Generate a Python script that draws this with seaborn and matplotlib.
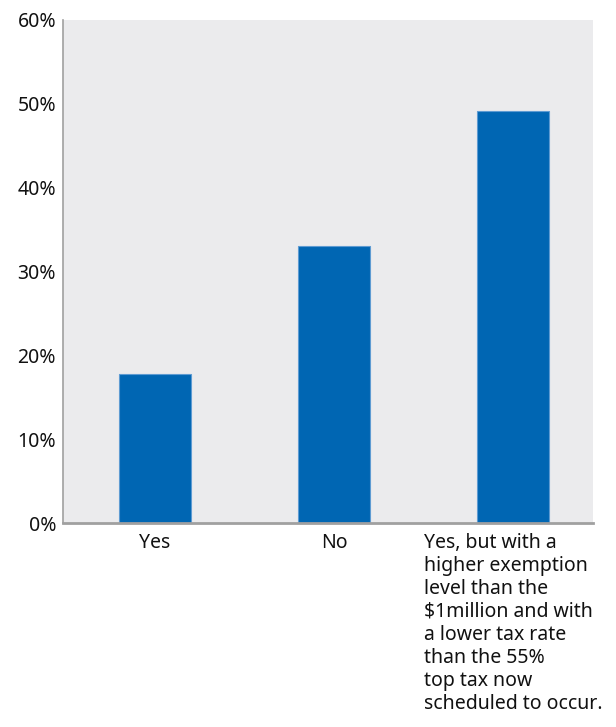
import matplotlib
matplotlib.use("Agg")
import matplotlib.pyplot as plt
import seaborn as sns
from matplotlib.ticker import FuncFormatter, FixedLocator, NullFormatter

categories = [
    "Yes",
    "No",
    "Yes, but with a\nhigher exemption\nlevel than the\n$1million and with\na lower tax rate\nthan the 55%\ntop tax now\nscheduled to occur.",
]
shares = [17.8, 33.0, 49.1]
y_ticks = [0, 10, 20, 30, 40, 50, 60]

sns.set_theme(style="white")
plt.rcParams["font.family"] = ["Noto Sans", "DejaVu Sans"]

fig = plt.figure(figsize=(6.16, 7.27), dpi=100)
ax = fig.add_axes([0.1023, 0.2806, 0.8604, 0.6919])
ax.set_facecolor("#EBEBED")

sns.barplot(x=categories, y=shares, ax=ax, width=0.4, color="#0066B3",
            saturation=1, edgecolor="#5E9BD2", linewidth=0.8)

ax.set_xlim(-0.514, 2.447)
ax.set_ylim(0, 60)
ax.set_yticks(y_ticks)
ax.yaxis.set_major_formatter(FuncFormatter(lambda v, _: f"{v:.0f}%"))

# category labels on minor ticks, separator ticks on major
ax.xaxis.set_major_locator(FixedLocator([0.693, 1.888]))
ax.xaxis.set_major_formatter(NullFormatter())
ax.xaxis.set_minor_locator(FixedLocator([0, 1, 2]))
ax.set_xticklabels(categories, minor=True)
for lbl in ax.get_xticklabels(minor=True):
    lbl.set_multialignment("left")
    lbl.set_verticalalignment("top")
    lbl.set_linespacing(1.2)

ax.tick_params(axis="x", which="minor", length=0, pad=7, labelsize=14, labelcolor="#111111")
ax.tick_params(axis="x", which="major", length=4, width=1.2, color="#A0A0A0", direction="out")
ax.tick_params(axis="y", length=3, width=1, color="#A0A0A0", direction="out", pad=2,
               labelsize=14, labelcolor="#111111")

for side in ["top", "right"]:
    ax.spines[side].set_visible(False)
ax.spines["left"].set_color("#A0A0A0")
ax.spines["left"].set_linewidth(1.2)
ax.spines["bottom"].set_color("#A0A0A0")
ax.spines["bottom"].set_linewidth(2)
ax.set_xlabel("")
ax.set_ylabel("")

fig.savefig("out.png", dpi=100)
